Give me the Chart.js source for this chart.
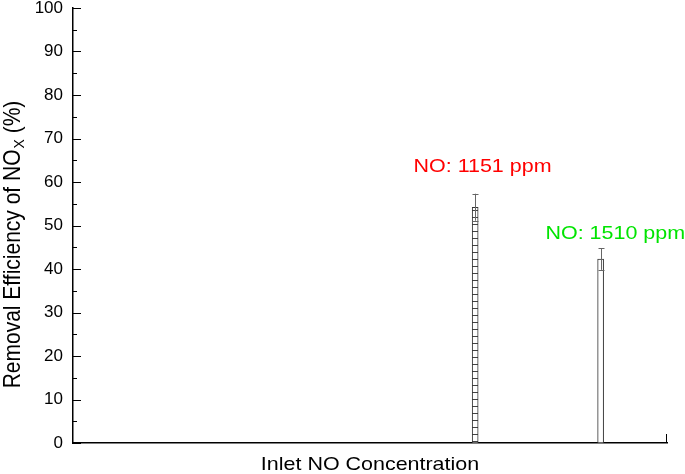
<!DOCTYPE html>
<html>
<head>
<meta charset="utf-8">
<script src="https://cdn.jsdelivr.net/npm/chart.js@4/dist/chart.umd.min.js"></script>
<style>
  html, body { margin: 0; padding: 0; background: #ffffff; }
  #wrap { width: 685px; height: 474px; position: relative; }
</style>
</head>
<body>
<div id="wrap"><canvas id="chart"></canvas></div>
<script>
// inlet NO concentration (ppm) of each run
var concentrations = [1151, 1510];
// removal efficiency of NOx (%)
var efficiency = [54.2, 42.3];
// error bar half height (%)
var errors = [3.1, 2.5];
var labelTexts = ['NO: 1151 ppm', 'NO: 1510 ppm'];
var yTickValues = [0, 10, 20, 30, 40, 50, 60, 70, 80, 90, 100];

var FONT = '"Liberation Sans", Arial, sans-serif';

// hatch for the first bar: horizontal lines
function makeHatch() {
    var c = document.createElement('canvas');
    c.width = 8;
    c.height = 7;
    var g = c.getContext('2d');
    g.fillStyle = '#ffffff';
    g.fillRect(0, 0, 8, 7);
    g.fillStyle = '#444444';
    g.fillRect(0, 0, 8, 1);
    return g.createPattern(c, 'repeat');
}

/**
 * Error bars, inward ticks, bar labels and axis titles
 */
var extras = {
    id: 'extras',
    afterDatasetsDraw: function (chart) {
        var ctx = chart.ctx;
        var xs = chart.scales.x;
        var ys = chart.scales.y;
        var area = chart.chartArea;

        // error bars
        ctx.save();
        ctx.strokeStyle = '#666666';
        ctx.lineWidth = 1;
        for (var i = 0; i < concentrations.length; i++) {
            var x = Math.round(xs.getPixelForValue(concentrations[i])) + 0.5;
            var top = ys.getPixelForValue(efficiency[i] + errors[i]);
            var bot = ys.getPixelForValue(efficiency[i] - errors[i]);
            ctx.beginPath();
            ctx.moveTo(x, top);
            ctx.lineTo(x, bot);
            ctx.moveTo(x - 3, Math.round(top) + 0.5);
            ctx.lineTo(x + 3, Math.round(top) + 0.5);
            ctx.moveTo(x - 3, Math.round(bot) + 0.5);
            ctx.lineTo(x + 3, Math.round(bot) + 0.5);
            ctx.stroke();
        }
        ctx.restore();

        // inward ticks on the y axis (major every 10, minor every 5)
        ctx.save();
        ctx.strokeStyle = '#000000';
        ctx.lineWidth = 1;
        ctx.beginPath();
        for (var v = 0; v <= 100; v += 5) {
            var y = Math.round(ys.getPixelForValue(v)) + 0.5;
            var len = (v % 10 === 0) ? 8 : 4;
            ctx.moveTo(area.left, y);
            ctx.lineTo(area.left + len, y);
        }
        // tick at the right end of the x axis
        ctx.moveTo(area.right - 0.5, area.bottom);
        ctx.lineTo(area.right - 0.5, area.bottom - 9);
        ctx.stroke();
        ctx.restore();

        // bar labels
        var opts = chart.options.plugins.extras;
        ctx.save();
        ctx.textBaseline = 'alphabetic';
        ctx.textAlign = 'center';
        ctx.font = '19px ' + FONT;
        for (var j = 0; j < labelTexts.length; j++) {
            var lx = xs.getPixelForValue(opts.labelAt[j][0]);
            var ly = ys.getPixelForValue(opts.labelAt[j][1]);
            ctx.fillStyle = opts.labelColors[j];
            ctx.save();
            ctx.translate(lx, ly);
            ctx.scale(1.13, 1);
            ctx.fillText(labelTexts[j], 0, 0);
            ctx.restore();
        }
        ctx.restore();

        // x axis title
        ctx.save();
        ctx.fillStyle = '#000000';
        ctx.font = '18.5px ' + FONT;
        ctx.textAlign = 'center';
        ctx.textBaseline = 'alphabetic';
        ctx.translate((area.left + area.right) / 2, 470);
        ctx.scale(1.16, 1);
        ctx.fillText('Inlet NO Concentration', 0, 0);
        ctx.restore();

        // y axis title with subscript x
        ctx.save();
        ctx.fillStyle = '#000000';
        ctx.textBaseline = 'alphabetic';
        ctx.textAlign = 'left';
        var mainFont = '21px ' + FONT;
        var subFont = '14px ' + FONT;
        var p1 = 'Removal Efficiency of NO';
        var p2 = 'X';
        var p3 = ' (%)';
        ctx.font = mainFont;
        var w1 = ctx.measureText(p1).width;
        var w3 = ctx.measureText(p3).width;
        ctx.font = subFont;
        var w2 = ctx.measureText(p2).width;
        var total = w1 + w2 + w3;
        ctx.translate(20, 245);
        ctx.rotate(-Math.PI / 2);
        ctx.scale(1, 1.1);
        var sx = -total / 2;
        ctx.font = mainFont;
        ctx.fillText(p1, sx, 0);
        ctx.font = subFont;
        ctx.fillText(p2, sx + w1 + 1, 4);
        ctx.font = mainFont;
        ctx.fillText(p3, sx + w1 + w2 + 1, 0);
        ctx.restore();
    }
};

var ctx = document.getElementById('chart').getContext('2d');
var chart = new Chart(ctx, {
    type: 'bar',
    data: {
        datasets: [{
            data: concentrations.map(function (c, i) { return {x: c, y: efficiency[i]}; }),
            backgroundColor: [makeHatch(), '#ffffff'],
            borderColor: '#333333',
            borderWidth: 1,
            borderSkipped: false,
            barThickness: 6
        }]
    },
    options: {
        responsive: true,
        maintainAspectRatio: false,
        animation: false,
        layout: {
            padding: {top: 0, right: 18, bottom: 0, left: 0}
        },
        plugins: {
            legend: {display: false},
            tooltip: {enabled: false},
            extras: {
                // label anchors in data units (x = ppm, y = %)
                labelAt: [[1172, 62.3], [1552, 46.8]],
                labelColors: ['#ff0000', '#00e400']
            }
        },
        scales: {
            x: {
                type: 'linear',
                min: 0,
                max: 1700,
                offset: false,
                grid: {display: false, drawTicks: false},
                border: {display: true, color: '#000000', width: 1.5},
                ticks: {display: false},
                afterFit: function (scale) { scale.height = 31; }
            },
            y: {
                min: 0,
                max: 100,
                afterBuildTicks: function (scale) {
                    scale.ticks = yTickValues.map(function (v) { return {value: v}; });
                },
                grid: {display: false, drawTicks: false},
                border: {display: true, color: '#000000', width: 1.5},
                ticks: {
                    padding: 10,
                    color: '#000000',
                    font: {family: FONT, size: 17, lineHeight: 0.95}
                },
                afterFit: function (scale) {
                    scale.width = 73;
                    scale.paddingTop = 8;
                    scale.paddingBottom = 8;
                }
            }
        }
    },
    plugins: [extras]
});
</script>
</body>
</html>
